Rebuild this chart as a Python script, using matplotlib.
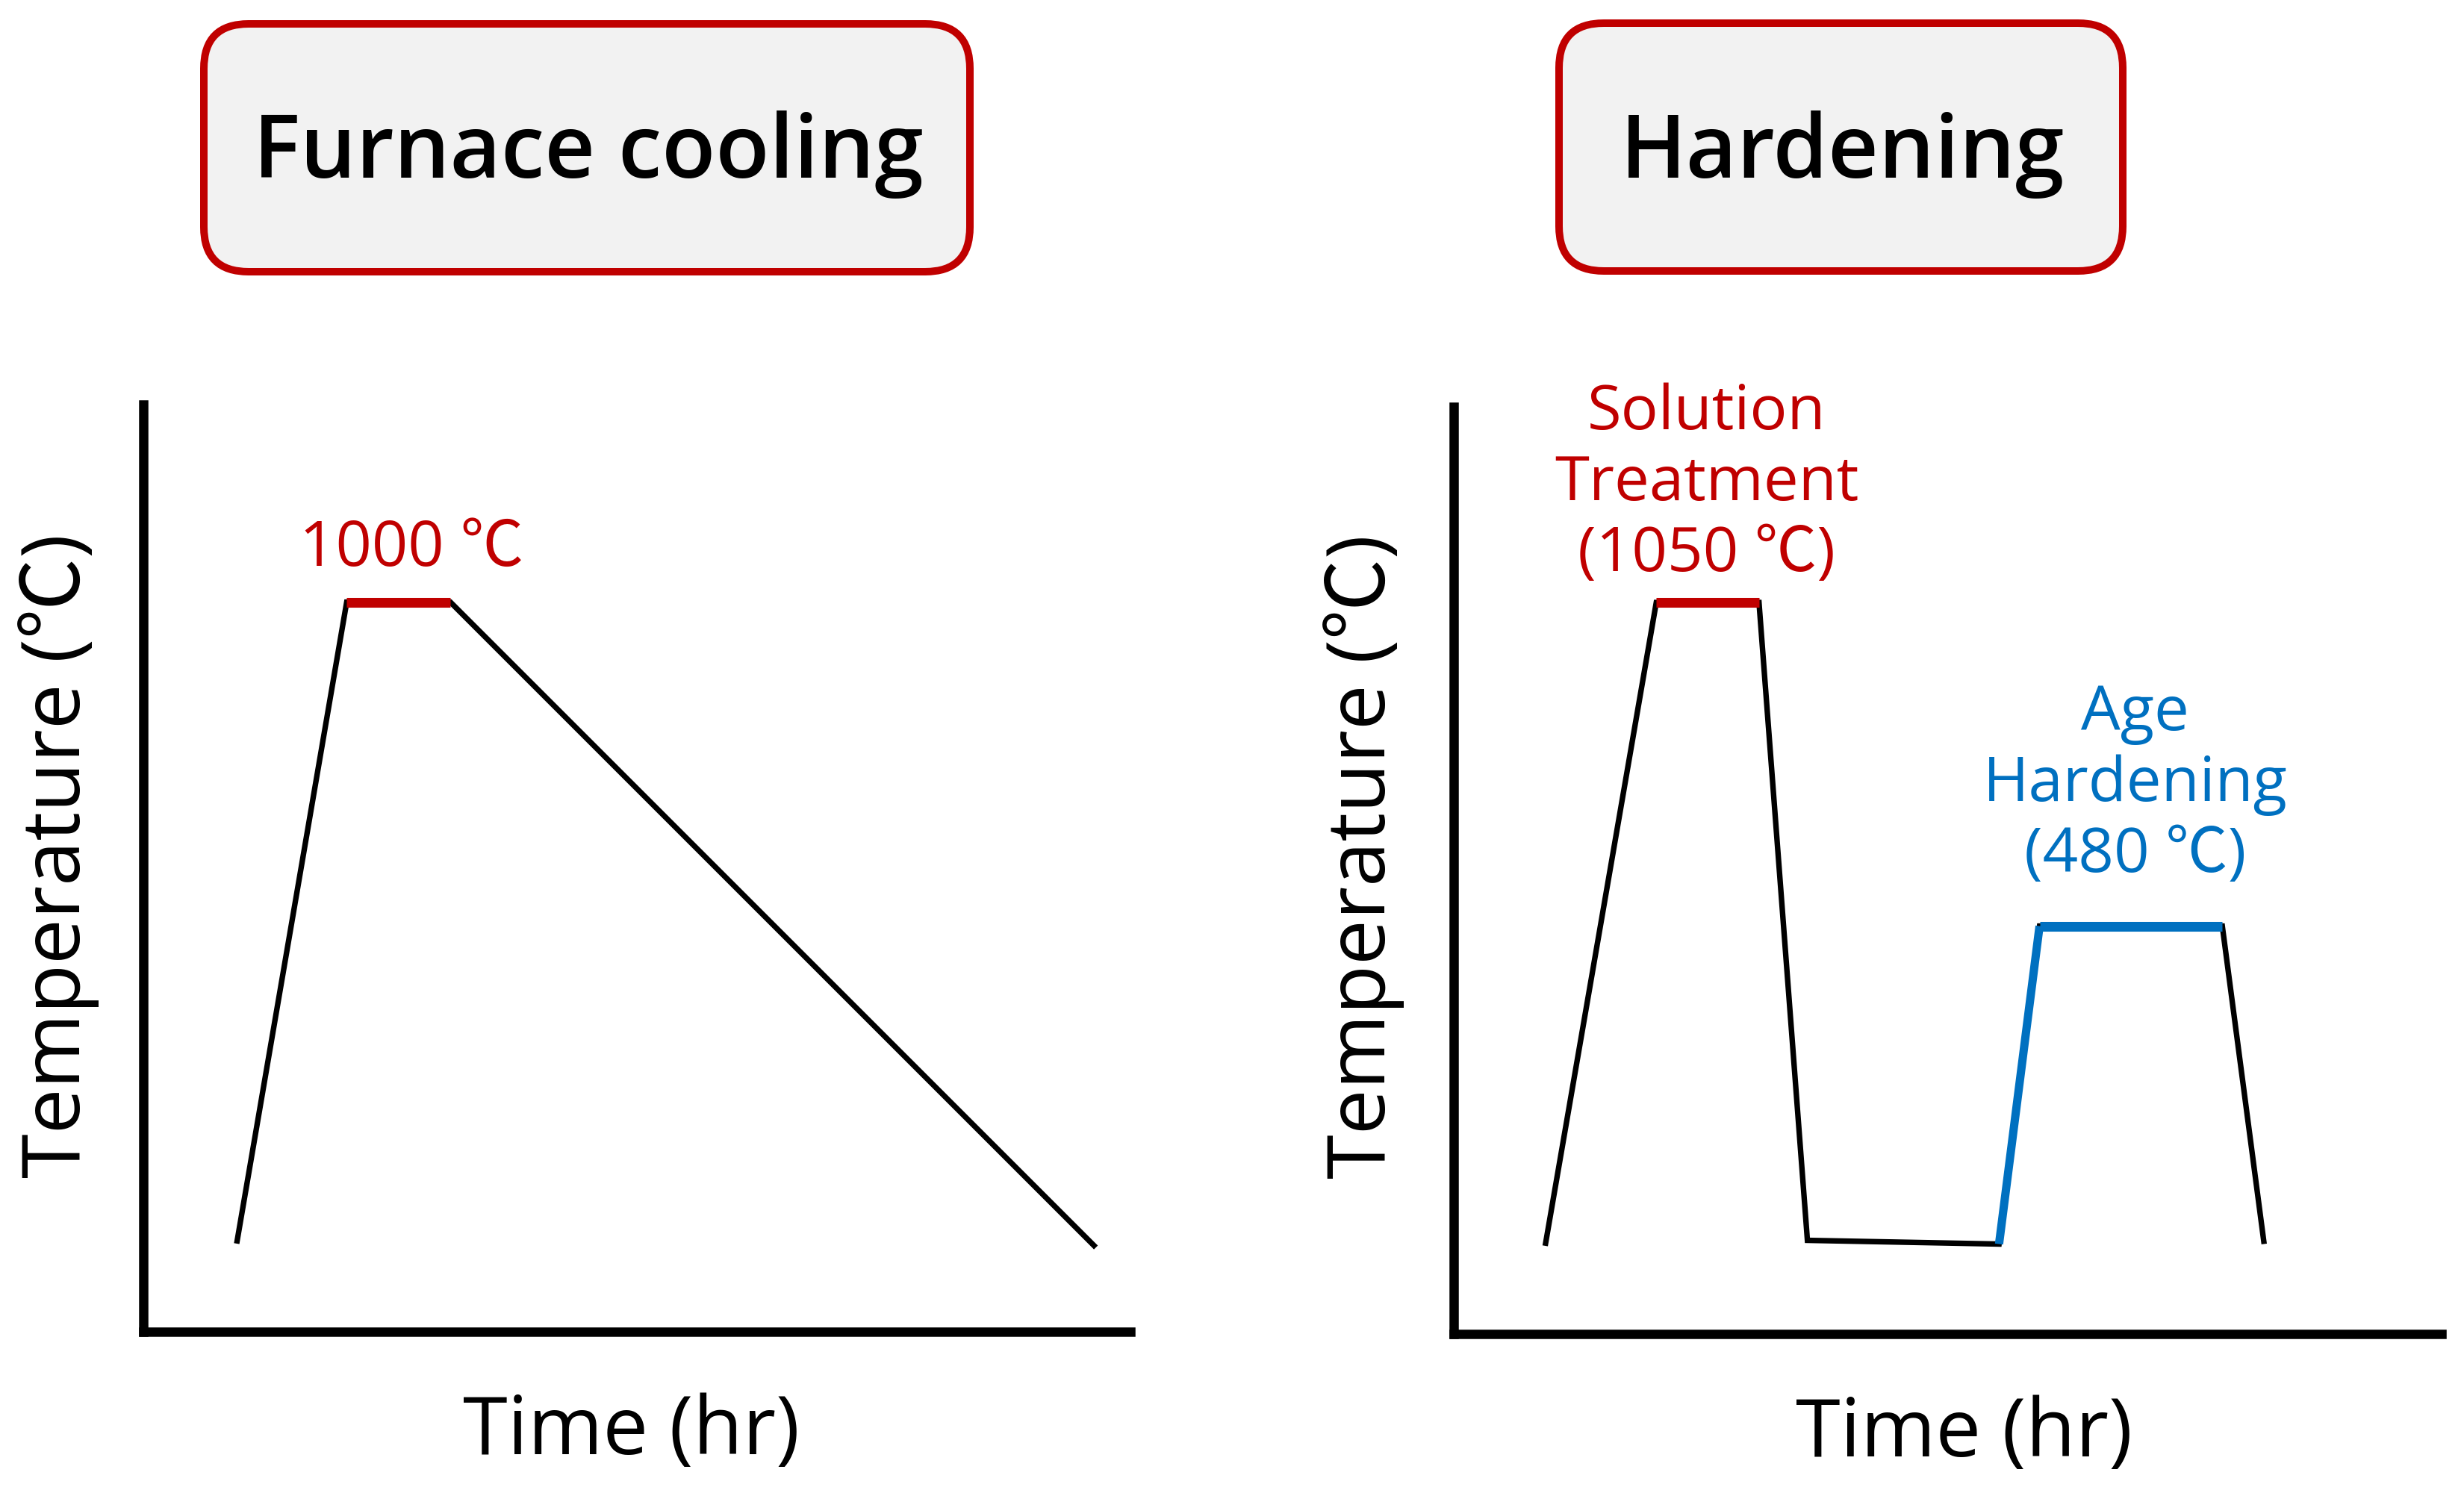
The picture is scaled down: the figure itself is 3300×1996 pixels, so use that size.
import matplotlib
matplotlib.use("Agg")
import matplotlib.pyplot as plt
from matplotlib.patches import FancyBboxPatch

plt.rcParams['font.family'] = ['Open Sans', 'Noto Sans CJK TC', 'DejaVu Sans']

RED = '#C00000'
BLUE = '#0070C0'

# schematic profiles, time and temperature in relative units (0-100)
furnace_time = [9.5, 20.6, 31.1, 96.3]
furnace_temp = [9.8, 78.7, 78.7, 9.3]
furnace_hold = (1, 2)          # red holding segment
furnace_label = '1000 ℃'

hard_time = [9.3, 20.5, 30.9, 35.8, 55.2, 59.3, 77.8, 82.0]
hard_temp = [9.8, 78.9, 78.9, 10.1, 9.7, 44.0, 44.0, 10.0]
solution_seg = (1, 2)          # red
aging_seg = (4, 6)             # blue (ramp + hold)
solution_label = 'Solution\nTreatment\n(1050 ℃)'
aging_label = 'Age\nHardening\n(480 ℃)'

titles = ['Furnace cooling', 'Hardening']
xlabel = 'Time (hr)'
ylabel = 'Temperature (℃)'

W, H = 3300, 1996
fig = plt.figure(figsize=(W / 100, H / 100), dpi=100)

ax1 = fig.add_axes([192 / W, 1 - 1784 / H, 1322 / W, 1242 / H])
ax2 = fig.add_axes([1947 / W, 1 - 1787 / H, 1323 / W, 1242 / H])

for ax in (ax1, ax2):
    ax.set_xlim(0, 100)
    ax.set_ylim(0, 100)
    ax.set_xticks([])
    ax.set_yticks([])
    for s in ('top', 'right'):
        ax.spines[s].set_visible(False)
    for s in ('left', 'bottom'):
        ax.spines[s].set_linewidth(9)
        ax.spines[s].set_color('black')
    ax.patch.set_alpha(0)
    ax.set_xlabel(xlabel, fontsize=78)
    ax.set_ylabel(ylabel, fontsize=78)

# furnace cooling
ax1.plot(furnace_time, furnace_temp, color='black', lw=5.3, solid_joinstyle='miter', clip_on=False)
a, b = furnace_hold
ax1.plot(furnace_time[a:b + 1], furnace_temp[a:b + 1], color=RED, lw=9.4,
         solid_capstyle='butt', clip_on=False)
ax1.text(27.2, 82.6, furnace_label, color=RED, fontsize=61, ha='center', va='baseline')

# hardening
ax2.plot(hard_time, hard_temp, color='black', lw=5.3, solid_joinstyle='miter', clip_on=False)
a, b = solution_seg
ax2.plot(hard_time[a:b + 1], hard_temp[a:b + 1], color=RED, lw=9.4,
         solid_capstyle='butt', clip_on=False)
a, b = aging_seg
ax2.plot(hard_time[a:a + 2], hard_temp[a:a + 2], color=BLUE, lw=8,
         solid_capstyle='butt', clip_on=False)
ax2.plot(hard_time[a + 1:b + 1], hard_temp[a + 1:b + 1], color=BLUE, lw=9.4,
         solid_capstyle='butt', clip_on=False)
ax2.text(25.6, 102.6, solution_label, color=RED, fontsize=60, ha='center', va='top',
         linespacing=1.2)
ax2.text(69.0, 70.2, aging_label, color=BLUE, fontsize=60, ha='center', va='top',
         linespacing=1.2)

ax1.xaxis.set_label_coords(0.494, -0.066)
ax2.xaxis.set_label_coords(0.517, -0.066)
ax1.yaxis.set_label_coords(-0.045, 0.513)
ax2.yaxis.set_label_coords(-0.050, 0.515)

# title boxes on an overlay in pixel units
ov = fig.add_axes([0, 0, 1, 1])
ov.set_xlim(0, W)
ov.set_ylim(H, 0)
ov.axis('off')
boxes = [(273, 32, 1026, 332), (2088, 31, 755, 332)]
for (x, y, w, h), t in zip(boxes, titles):
    ov.add_patch(FancyBboxPatch((x, y), w, h, boxstyle='round,pad=0,rounding_size=60',
                                facecolor='#F2F2F2', edgecolor=RED, linewidth=7.2))
    ov.text(x + w / 2 + 2, 238, t, fontsize=85, fontweight='semibold',
            ha='center', va='baseline')

fig.savefig('out.png', dpi=100)
